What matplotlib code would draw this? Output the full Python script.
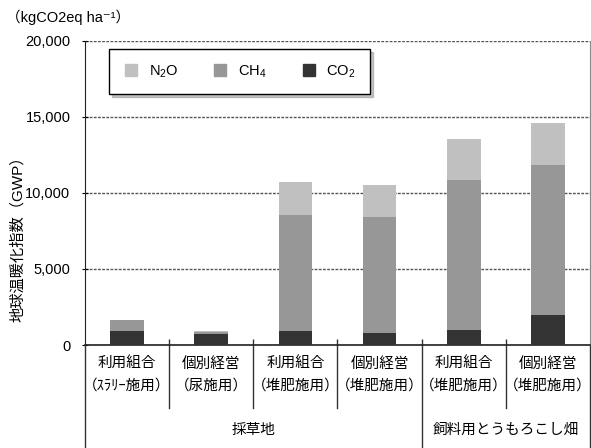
import numpy as np
import matplotlib
matplotlib.use("Agg")
from matplotlib import pyplot as plt
from matplotlib.lines import Line2D

plt.rcParams['font.family'] = ['Liberation Sans', 'DejaVu Sans', 'Noto Sans CJK JP']
plt.rcParams['mathtext.fontset'] = 'custom'
plt.rcParams['mathtext.rm'] = 'Liberation Sans'
plt.rcParams['mathtext.it'] = 'Liberation Sans'

# 作付・経営形態ごとの温室効果ガス排出量 (kgCO2eq/ha)
top_labels = ['利用組合', '個別経営', '利用組合', '個別経営', '利用組合', '個別経営']
sub_labels = ['（ｽﾗﾘｰ施用）', '（尿施用）', '（堆肥施用）', '（堆肥施用）', '（堆肥施用）', '（堆肥施用）']
group_names = ['採草地', '飼料用とうもろこし畑']
group_sizes = [4, 2]

co2 = [900, 750, 900, 810, 985, 2000]
ch4 = [725, 90, 7675, 7610, 9845, 9860]
n2o = [20, 70, 2125, 2130, 2740, 2740]

colors = {'N2O': '#c0c0c0', 'CH4': '#979797', 'CO2': '#333333'}

fig = plt.figure(figsize=(5.91, 4.48), dpi=100)
ax = fig.add_axes([85 / 591, 103 / 448, 505 / 591, 304 / 448])

x = np.arange(len(co2))
w = 0.4
co2 = np.array(co2)
ch4 = np.array(ch4)
n2o = np.array(n2o)
ax.bar(x, co2, w, color=colors['CO2'], zorder=3)
ax.bar(x, ch4, w, bottom=co2, color=colors['CH4'], zorder=3)
ax.bar(x, n2o, w, bottom=co2 + ch4, color=colors['N2O'], zorder=3)

ax.set_xlim(-0.5, len(x) - 0.5)
ax.set_ylim(0, 20000)
ax.set_yticks([0, 5000, 10000, 15000, 20000])
ax.set_yticklabels(['{:,}'.format(v) for v in [0, 5000, 10000, 15000, 20000]], fontsize=10.5)
ax.yaxis.grid(True, linestyle=(0, (2, 1)), color='#555555', linewidth=1)
ax.set_axisbelow(True)
ax.tick_params(axis='y', direction='inout', length=5, width=0.8, pad=8)

ax.set_xticks(np.arange(0.5, len(x) - 1, 1.0))
ax.set_xticklabels([])
ax.tick_params(axis='x', direction='in', length=4, width=1, color='#333333')

ax.spines['top'].set_visible(False)
ax.spines['right'].set_color('#888888')
ax.spines['left'].set_color('#222222')
ax.spines['bottom'].set_color('#222222')
ax.spines['bottom'].set_linewidth(1.2)

# 項目ラベルと区切り線
tr = ax.get_xaxis_transform()
for i in range(len(x)):
    ax.text(i, -0.063, top_labels[i], transform=tr, ha='center', va='center', fontsize=10.5)
    ax.text(i, -0.132, sub_labels[i], transform=tr, ha='center', va='center', fontsize=10.5)

edges = np.cumsum([0] + group_sizes) - 0.5
for b in np.arange(0.5, len(x) - 1, 1.0):
    low = -0.34 if b in edges else -0.207
    ax.plot([b, b], [0, low], transform=tr, color='#333333', lw=1, clip_on=False)
for b in [edges[0], edges[-1]]:
    ax.plot([b, b], [0, -0.34], transform=tr, color='#333333', lw=1, clip_on=False)

for k, name in enumerate(group_names):
    ax.text((edges[k] + edges[k + 1]) / 2, -0.28, name, transform=tr,
            ha='center', va='center', fontsize=10.5)

handles = [Line2D([], [], marker='s', linestyle='none', markersize=8,
                  markerfacecolor=colors[k], markeredgecolor=colors[k])
           for k in ['N2O', 'CH4', 'CO2']]
leg = ax.legend(handles, ['N$_2$O', 'CH$_4$', 'CO$_2$'], ncol=3,
                loc='center', bbox_to_anchor=(0.034, 0.822, 0.545, 0.155),
                frameon=True, fancybox=False, edgecolor='black', framealpha=1,
                fontsize=10.5, handlelength=1.0, handletextpad=0.7, columnspacing=2.4,
                borderpad=1.0, borderaxespad=0, shadow={'color': '0.55'})
leg.get_frame().set_linewidth(1.0)

fig.text(6 / 591, 1 - 17 / 448, '（kgCO2eq ha⁻¹）', fontsize=10.5, va='center', ha='left')
fig.text(18 / 591, 1 - 235 / 448, '地球温暖化指数（GWP）', rotation=90,
         fontsize=11, va='center', ha='center')

fig.savefig('out.png', dpi=100)
